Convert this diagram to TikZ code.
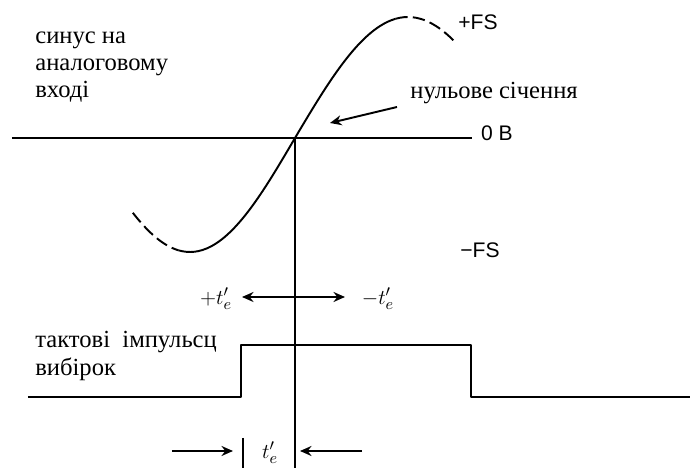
\documentclass[tikz,border=0pt]{standalone}
\usepackage{fontspec}
\setmainfont{Liberation Serif}
\setsansfont{Liberation Sans}
\usetikzlibrary{arrows.meta,positioning,calc}
\tikzset{
  sig/.style={line width=1.1pt,line join=round},
  tail/.style={sig,dash pattern=on 7pt off 3pt},
  txt/.style={font=\fontsize{14}{15.5}\selectfont,align=left,inner sep=0pt},
  lvl/.style={font=\sffamily\fontsize{12}{14}\selectfont,inner sep=0pt},
  tlbl/.style={font=\fontsize{13}{15}\selectfont,inner sep=0pt},
  ptr/.style={-{Stealth[length=2.3mm,width=2mm]},line width=1.1pt},
}

\begin{document}
\begin{tikzpicture}
  \useasboundingbox (-5.9,-6.6) rectangle (7.9,2.76);
  % zero level and time reference
  \coordinate (zc) at (0,0);
  \coordinate (zl) at (-5.66,0);
  \coordinate (zr) at (3.54,0);
  \coordinate (vb) at (0,-6.6);
  \draw[sig] (zl) -- (zr);
  \draw[sig] (zc) -- (vb);
  % analog input sine
  \draw[tail] plot[domain=-139:-100,samples=15,smooth,variable=\t] ({\t/90*2.1},{2.28*sin(\t)});
  \draw[sig] plot[domain=-100:0,samples=30,smooth,variable=\t] ({\t/90*2.1},{2.28*sin(\t)})
    -- plot[domain=0:80,samples=25,smooth,variable=\t] ({\t/90*2.26},{2.42*sin(\t)});
  \draw[tail] plot[domain=80:127,samples=15,smooth,variable=\t] ({\t/90*2.26},{2.42*sin(\t)});
  \node[txt,anchor=west] (sinlbl) at (-5.2,1.42) {синус на\\аналоговому\\вході};
  \node[lvl] (pfs) at (3.66,2.32) {+FS};
  \node[lvl] (nfs) at (3.7,-2.24) {−FS};
  \node[lvl] (zv) at (4.04,0.1) {0 B};
  \node[txt,anchor=west] (zclbl) at (2.3,0.9) {нульове січення};
  \coordinate (zctip) at (0.7,0.3);
  \draw[ptr] ([xshift=-2.6mm,yshift=-2.8mm]zclbl.west) -- (zctip);
  % timing uncertainty
  \coordinate (tm) at (0,-3.18);
  \coordinate (tml) at (-1.06,-3.18);
  \coordinate (tmr) at (1.0,-3.18);
  \draw[ptr] (tm) -- (tml);
  \draw[ptr] (tm) -- (tmr);
  \node[tlbl] (tpl) at (-1.58,-3.22) {$+t'_e$};
  \node[tlbl] (tmn) at (1.66,-3.22) {$-t'_e$};
  % sampling clock
  \coordinate (p0) at (-5.34,-5.18);
  \coordinate (p1) at (-1.08,-5.18);
  \coordinate (p2) at (-1.08,-4.14);
  \coordinate (p3) at (3.52,-4.14);
  \coordinate (p4) at (3.52,-5.18);
  \coordinate (p5) at (7.9,-5.18);
  \draw[sig] (p0) -- (p1) -- (p2) -- (p3) -- (p4) -- (p5);
  \node[txt,anchor=west] (clklbl) at (-5.2,-4.36) {тактові\ \ імпульсц\\вибірок};
  % aperture width
  \coordinate (bt) at (-1.04,-6.0);
  \coordinate (bb) at (-1.04,-6.6);
  \draw[sig] (bt) -- (bb);
  \node[tlbl] (te) at (-0.5,-6.3) {$t'_e$};
  \coordinate (al0) at (-2.46,-6.26);
  \coordinate (al1) at (-1.24,-6.26);
  \coordinate (ar0) at (1.34,-6.26);
  \coordinate (ar1) at (0.1,-6.26);
  \draw[ptr] (al0) -- (al1);
  \draw[ptr] (ar0) -- (ar1);
\end{tikzpicture}
\end{document}
